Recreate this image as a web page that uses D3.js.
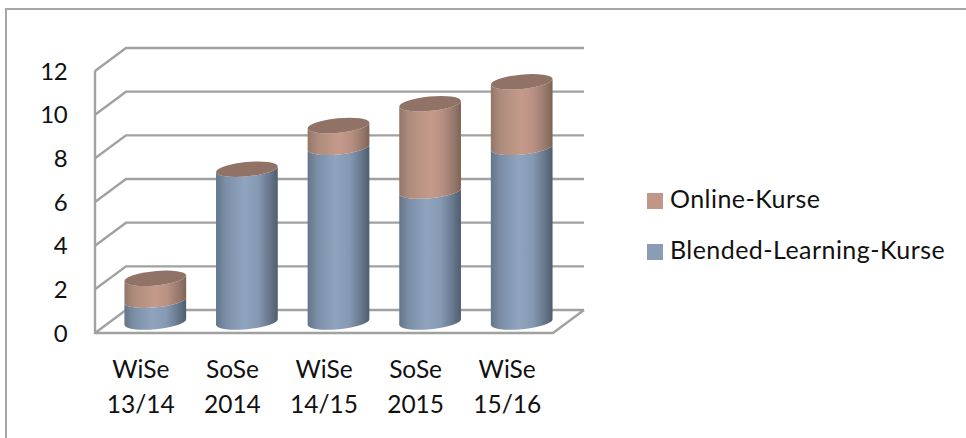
<!DOCTYPE html>
<html>
<head>
<meta charset="utf-8">
<script src="https://cdn.jsdelivr.net/npm/d3@7"></script>
<style>
  html, body { margin: 0; padding: 0; background: #fff; }
  svg { display: block; }
  text { font-family: Lato, "Open Sans", sans-serif; fill: #111; }
</style>
</head>
<body>
<svg id="chart" width="966" height="438"></svg>
<script>
const semesters = ["WiSe 13/14", "SoSe 2014", "WiSe 14/15", "SoSe 2015", "WiSe 15/16"];
const blended = [1, 7, 8, 6, 8];
const online = [1, 0, 1, 4, 3];
const yTicks = [0, 2, 4, 6, 8, 10, 12];
const legendLabels = ["Online-Kurse", "Blended-Learning-Kurse"];

const svg = d3.select("#chart");

// 3d box: the back wall is the front plane moved by depth
const depth = {x: 31, y: -23};
const plot = {left: 95, right: 553, top: 71, bottom: 333};

const x = d3.scaleBand().domain(semesters).range([plot.left, plot.right]);
const y = d3.scaleLinear().domain([0, 12]).range([plot.bottom, plot.top]);

const rx = 31, ry = 7.2, tilt = -5.5;
const rad = tilt * Math.PI / 180;
const dx = rx * Math.cos(rad), dy = rx * Math.sin(rad);
const lift = -11; // cylinder axis sits this far above the front plane

const defs = svg.append("defs");
function gradient(id, stops) {
  defs.append("linearGradient").attr("id", id)
    .selectAll("stop").data(stops).enter().append("stop")
    .attr("offset", d => d[0])
    .attr("stop-color", d => d[1]);
}
gradient("blueBody", [[0, "#647588"], [0.15, "#7b8ea6"], [0.45, "#90a4bf"], [0.68, "#8699b2"], [0.88, "#65768a"], [1, "#4f5d6d"]]);
gradient("brownBody", [[0, "#937668"], [0.15, "#ad8b7b"], [0.5, "#c49b8b"], [0.7, "#b89081"], [0.9, "#94766a"], [1, "#7c6256"]]);

// chart frame
svg.append("rect")
  .attr("x", 6).attr("y", 9)
  .attr("width", 990).attr("height", 500)
  .attr("fill", "none")
  .attr("stroke", "#a6a6a6")
  .attr("stroke-width", 2);

// grid lines
const grid = svg.append("g")
  .attr("fill", "none")
  .attr("stroke", "#a1a1a1")
  .attr("stroke-width", 2.4);

grid.selectAll("path.tick-line").data(yTicks).enter().append("path")
  .attr("class", "tick-line")
  .attr("d", d => `M${plot.left},${y(d)}L${plot.left + depth.x},${y(d) + depth.y}L${plot.right + depth.x},${y(d) + depth.y}`);

grid.append("path")
  .attr("d", `M${plot.left},${y(12)}L${plot.left},${y(0)}L${plot.right},${y(0)}L${plot.right + depth.x},${y(0) + depth.y}`);

// cylinder side, from one value level up to another
function sidePath(cx, v0, v1) {
  const y0 = y(v0) + lift, y1 = y(v1) + lift;
  return `M${cx - dx},${y0 - dy}` +
    `A${rx},${ry} ${tilt} 0 0 ${cx + dx},${y0 + dy}` +
    `L${cx + dx},${y1 + dy}` +
    `A${rx},${ry} ${tilt} 0 1 ${cx - dx},${y1 - dy}Z`;
}

const bars = svg.selectAll("g.bar").data(semesters).enter().append("g").attr("class", "bar");
const centre = d => x(d) + x.bandwidth() / 2 + depth.x / 2 - 1;

bars.append("path")
  .attr("fill", "url(#blueBody)")
  .attr("d", (d, i) => sidePath(centre(d), 0, blended[i]));

bars.filter((d, i) => online[i] > 0).append("path")
  .attr("fill", "url(#brownBody)")
  .attr("d", d => {
    const i = semesters.indexOf(d);
    return sidePath(centre(d), blended[i], blended[i] + online[i]);
  });

bars.append("ellipse")
  .attr("fill", "#907266")
  .attr("rx", rx).attr("ry", ry)
  .attr("transform", (d, i) => `translate(${centre(d)},${y(blended[i] + online[i]) + lift}) rotate(${tilt})`);

// y axis labels
svg.selectAll("text.y-label").data(yTicks).enter().append("text")
  .attr("class", "y-label")
  .attr("x", 67)
  .attr("y", d => y(d) + 8.5)
  .attr("text-anchor", "end")
  .attr("font-size", 24)
  .attr("letter-spacing", -0.6)
  .text(d => d);

// x axis labels on two lines
const xLabels = svg.selectAll("text.x-label").data(semesters).enter().append("text")
  .attr("class", "x-label")
  .attr("text-anchor", "middle")
  .attr("font-size", 24.5);
xLabels.append("tspan")
  .attr("x", d => x(d) + x.bandwidth() / 2)
  .attr("y", 378)
  .text(d => d.split(" ")[0]);
xLabels.append("tspan")
  .attr("x", d => x(d) + x.bandwidth() / 2)
  .attr("y", 413)
  .text(d => d.split(" ")[1]);

// legend
const legendY = d3.scalePoint().domain(legendLabels).range([201, 252]);
const legendColor = d3.scaleOrdinal().domain(legendLabels).range(["#c09688", "#8b9db6"]);

svg.selectAll("rect.key").data(legendLabels).enter().append("rect")
  .attr("class", "key")
  .attr("x", 647).attr("y", d => legendY(d) - 8)
  .attr("width", 16).attr("height", 16)
  .attr("fill", d => legendColor(d));

svg.selectAll("text.key-label").data(legendLabels).enter().append("text")
  .attr("class", "key-label")
  .attr("x", 670).attr("y", d => legendY(d) + 7)
  .attr("font-size", 25)
  .attr("letter-spacing", 0.45)
  .text(d => d);
</script>
</body>
</html>
